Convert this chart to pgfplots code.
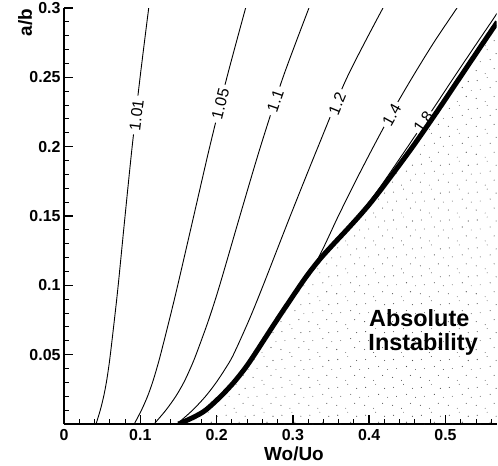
\documentclass[border=0pt]{standalone}
\usepackage{fontspec}
\setmainfont{Liberation Sans}
\usepackage{pgfplots}
\pgfplotsset{compat=1.18}
\usetikzlibrary{patterns}

\pgfdeclarepatternformonly{sparsedots}{\pgfqpoint{-1pt}{-1pt}}{\pgfqpoint{29pt}{29pt}}{\pgfqpoint{28pt}{28pt}}{%
 \pgfpathcircle{\pgfqpoint{2pt}{4pt}}{0.55pt}
 \pgfpathcircle{\pgfqpoint{11pt}{1pt}}{0.45pt}
 \pgfpathcircle{\pgfqpoint{20pt}{6pt}}{0.55pt}
 \pgfpathcircle{\pgfqpoint{6pt}{13pt}}{0.45pt}
 \pgfpathcircle{\pgfqpoint{16pt}{15pt}}{0.55pt}
 \pgfpathcircle{\pgfqpoint{25pt}{12pt}}{0.45pt}
 \pgfpathcircle{\pgfqpoint{3pt}{22pt}}{0.55pt}
 \pgfpathcircle{\pgfqpoint{13pt}{25pt}}{0.45pt}
 \pgfpathcircle{\pgfqpoint{22pt}{21pt}}{0.55pt}
 \pgfusepath{fill}}

\begin{document}
\begin{tikzpicture}
\begin{axis}[
  scale only axis, width=432.6bp, height=416bp,
  xmin=0, xmax=0.567, ymin=0, ymax=0.3,
  axis x line*=bottom, axis y line*=left,
  axis line style={line width=2.6bp},
  tick align=inside,
  major tick length=9bp, minor tick length=5bp,
  major tick style={line width=1.5bp, black},
  minor tick style={line width=1bp, black},
  xtick={0,0.1,0.2,0.3,0.4,0.5}, xticklabels={0,0.1,0.2,0.3,0.4,0.5},
  ytick={0.05,0.1,0.15,0.2,0.25,0.3}, yticklabels={0.05,0.1,0.15,0.2,0.25,0.3},
  minor xtick={0.02,0.04,0.06,0.08,0.12,0.14,0.16,0.18,0.22,0.24,0.26,0.28,0.32,0.34,0.36,0.38,0.42,0.44,0.46,0.48,0.52,0.54,0.56},
  minor ytick={0.01,0.02,0.03,0.04,0.06,0.07,0.08,0.09,0.11,0.12,0.13,0.14,0.16,0.17,0.18,0.19,0.21,0.22,0.23,0.24,0.26,0.27,0.28,0.29},
  tick label style={font=\fontsize{16}{16}\selectfont\bfseries},
  xticklabel style={yshift=-2bp},
  xlabel={Wo/Uo}, ylabel={a/b},
  label style={font=\fontsize{19}{19}\selectfont\bfseries},
  xlabel style={at={(axis description cs:0.5316,-0.0865)}, anchor=base},
  ylabel style={at={(axis description cs:-0.074,0.965)}, anchor=base},
]
% absolute instability region
\addplot[draw=none, pattern=sparsedots, pattern color=black!70] coordinates {
 (0.150,0) (0.170,0.005) (0.1855,0.01) (0.2055,0.02) (0.2225,0.03) (0.237,0.04)
 (0.2495,0.05) (0.279,0.075) (0.3095,0.1) (0.3225,0.11) (0.337,0.12) (0.3535,0.13)
 (0.3705,0.14) (0.387,0.15) (0.4025,0.16) (0.4235,0.175) (0.457,0.2) (0.4885,0.225)
 (0.519,0.25) (0.5495,0.275) (0.568,0.29)} \closedcycle;
% thin contour lines
\addplot[smooth, line width=0.9bp] coordinates {
 (0.042,0) (0.0475,0.01) (0.052,0.02) (0.0555,0.03) (0.0583,0.04) (0.0607,0.05)
 (0.066,0.075) (0.071,0.1) (0.080,0.15) (0.0893,0.2) (0.0997,0.25) (0.111,0.3)};
\addplot[smooth, line width=0.9bp] coordinates {
 (0.092,0) (0.1015,0.01) (0.1095,0.02) (0.116,0.03) (0.1215,0.04) (0.1265,0.05)
 (0.138,0.075) (0.149,0.1) (0.170,0.15) (0.191,0.2) (0.2135,0.25) (0.238,0.3)};
\addplot[smooth, line width=0.9bp] coordinates {
 (0.118,0) (0.1335,0.01) (0.1465,0.02) (0.157,0.03) (0.1655,0.04) (0.173,0.05)
 (0.1895,0.075) (0.204,0.1) (0.2305,0.15) (0.2575,0.2) (0.287,0.25) (0.321,0.3)};
\addplot[smooth, line width=0.9bp] coordinates {
 (0.148,0) (0.1685,0.01) (0.1855,0.02) (0.1995,0.03) (0.2115,0.04) (0.222,0.05)
 (0.2425,0.075) (0.261,0.1) (0.2965,0.15) (0.333,0.2) (0.371,0.25) (0.418,0.3)};
\addplot[smooth, line width=0.9bp] coordinates {
 (0.150,0) (0.170,0.005) (0.1855,0.01) (0.2055,0.02) (0.2225,0.03) (0.237,0.04)
 (0.2495,0.05) (0.279,0.075) (0.3095,0.1) (0.3225,0.11) (0.3335,0.12) (0.3425,0.13)
 (0.351,0.14) (0.3595,0.15) (0.382,0.175) (0.4055,0.2) (0.430,0.225) (0.4565,0.25)
 (0.4845,0.275) (0.515,0.3)};
\addplot[smooth, line width=0.9bp] coordinates {
 (0.150,0) (0.170,0.005) (0.1855,0.01) (0.2055,0.02) (0.2225,0.03) (0.237,0.04)
 (0.2495,0.05) (0.279,0.075) (0.3095,0.1) (0.3225,0.11) (0.337,0.12) (0.3535,0.13)
 (0.3705,0.14) (0.386,0.15) (0.400,0.16) (0.4195,0.175) (0.4505,0.2) (0.481,0.225)
 (0.511,0.25) (0.5415,0.275) (0.560,0.29) (0.572,0.3)};
% contour labels
\node[rotate=83, fill=white, inner xsep=4bp, inner ysep=0.5bp, font=\fontsize{16}{16}\selectfont] at (axis cs:0.095,0.2228) {1.01};
\node[rotate=76, fill=white, inner xsep=4bp, inner ysep=0.5bp, font=\fontsize{16}{16}\selectfont] at (axis cs:0.205,0.231) {1.05};
\node[rotate=71, fill=white, inner xsep=4bp, inner ysep=0.5bp, font=\fontsize{16}{16}\selectfont] at (axis cs:0.277,0.233) {1.1};
\node[rotate=67.6, fill=white, inner xsep=4bp, inner ysep=0.5bp, font=\fontsize{16}{16}\selectfont] at (axis cs:0.358,0.231) {1.2};
\node[rotate=61, fill=white, inner xsep=3bp, inner ysep=0.5bp, font=\fontsize{16}{16}\selectfont] at (axis cs:0.4295,0.223) {1.4};
\node[rotate=55.6, fill=white, inner xsep=2bp, inner ysep=0bp, font=\fontsize{16}{16}\selectfont] at (axis cs:0.471,0.218) {1.8};
% thick boundary line
\addplot[smooth, line width=5bp] coordinates {
 (0.150,0) (0.170,0.005) (0.1855,0.01) (0.2055,0.02) (0.2225,0.03) (0.237,0.04)
 (0.2495,0.05) (0.279,0.075) (0.3095,0.1) (0.3225,0.11) (0.337,0.12) (0.3535,0.13)
 (0.3705,0.14) (0.387,0.15) (0.4025,0.16) (0.4235,0.175) (0.457,0.2) (0.4885,0.225)
 (0.519,0.25) (0.5495,0.275) (0.568,0.29)};
\node[anchor=base west, inner sep=0pt, font=\fontsize{23.5}{23.5}\selectfont\bfseries] at (axis cs:0.3997,0.0702) {Absolute};
\node[anchor=base west, inner sep=0pt, font=\fontsize{23.5}{23.5}\selectfont\bfseries] at (axis cs:0.3988,0.0534) {Instability};
\coordinate (bbsw) at (axis cs:-0.0839,-0.0296);
\coordinate (bbne) at (axis cs:0.5688,0.3058);
\end{axis}
\pgfresetboundingbox
\path (bbsw) rectangle (bbne);
\end{tikzpicture}
\end{document}
